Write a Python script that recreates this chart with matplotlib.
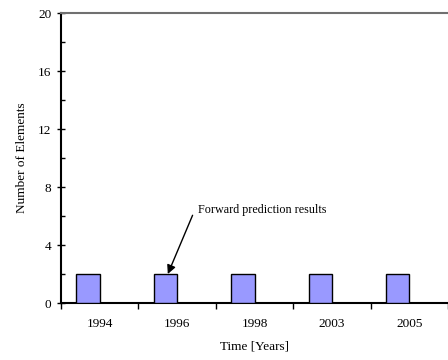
import matplotlib
matplotlib.use("Agg")
import matplotlib.pyplot as plt
from matplotlib.ticker import MultipleLocator

years = ["1994", "1996", "1998", "2003", "2005"]
elements = [2, 2, 2, 2, 2]
annotation_text = "Forward prediction results"
annotated_year = "1996"

plt.rcParams["font.family"] = ["Liberation Serif", "DejaVu Serif"]

fig = plt.figure(figsize=(4.48, 3.6), dpi=100)
ax = fig.add_axes([61 / 448, 57 / 360, 387 / 448, 290 / 360])

x = list(range(len(years)))
bar_offset = -0.15  # first slot of a two-slot cluster
bar_x = [xi + bar_offset for xi in x]
ax.bar(bar_x, elements, width=0.3, color="#9999FF", edgecolor="black", linewidth=1.0, zorder=3)

ax.set_xlim(-0.5, len(years) - 0.5)
ax.set_ylim(0, 20)

ax.yaxis.set_major_locator(MultipleLocator(4))
ax.yaxis.set_minor_locator(MultipleLocator(2))
ax.tick_params(axis="y", which="major", direction="inout", length=6, width=1, labelsize=9.5, pad=4)
ax.tick_params(axis="y", which="minor", direction="in", length=3, width=1)

# category labels at centres, boundary ticks between categories
ax.set_xticks(x)
ax.set_xticklabels(years)
ax.tick_params(axis="x", which="major", length=0, labelsize=9.5, pad=10.5)
ax.set_xticks([i - 0.5 for i in range(len(years) + 1)], minor=True)
ax.tick_params(axis="x", which="minor", direction="out", length=4, width=1)

for s in ("left", "bottom"):
    ax.spines[s].set_linewidth(1.5)
    ax.spines[s].set_color("black")
ax.spines["top"].set_color("#707070")
ax.spines["top"].set_linewidth(1.5)
ax.spines["right"].set_visible(False)

ax.set_xlabel("Time [Years]", fontsize=9.5, labelpad=8)
ax.set_ylabel("Number of Elements", fontsize=9.5, labelpad=7)

xi = years.index(annotated_year)
ax.annotate("", xy=(bar_x[xi] + 0.03, elements[xi]), xytext=(xi + 0.2, 6.05),
            arrowprops=dict(arrowstyle="-|>", color="black", lw=1, mutation_scale=13,
                            shrinkA=0, shrinkB=0))
ax.text(xi + 0.27, 6.4, annotation_text, fontsize=8.7, ha="left", va="center")

fig.savefig("out.png", dpi=100)
